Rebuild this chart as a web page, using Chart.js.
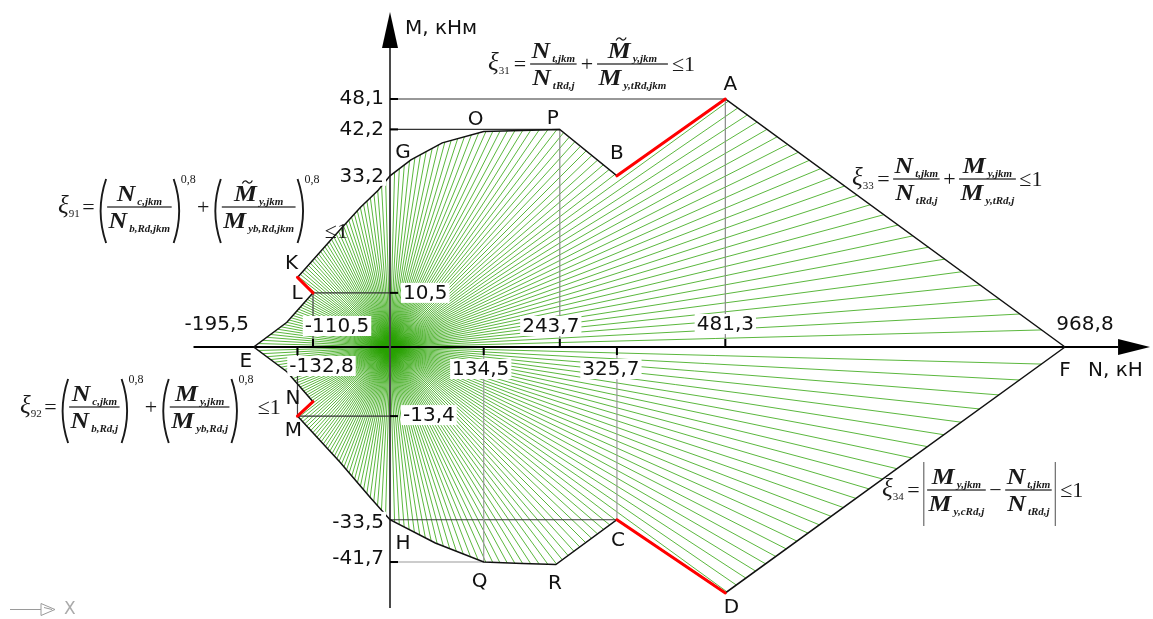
<!DOCTYPE html>
<html>
<head>
<meta charset="utf-8">
<script src="https://cdn.jsdelivr.net/npm/chart.js@4/dist/chart.umd.min.js"></script>
<style>
  html, body { margin: 0; padding: 0; background: #fff; overflow: hidden; }
  canvas { display: block; }
</style>
</head>
<body>
<canvas id="c" width="1153" height="619"></canvas>
<script>
// Interaction diagram N–M: boundary vertices, counter-clockwise from F
const vertexLabels = ['F','A','B','P','O','','','G','','','','K','L','','E','','N','M','','','H','','Q','','R','C','D'];
const boundaryN = [968.8, 481.3, 325.7, 243.7, 134.5, 75, 30, 0, -17, -43, -86, -132.8, -110.5, -148, -195.5, -148, -110.5, -132.8, -72, -29, 0, 65, 134.5, 190, 238, 325.7, 481.3];
const boundaryM = [0, 48.1, 33.2, 42.2, 41.8, 39.6, 36.3, 33.2, 30.4, 27.0, 20.6, 13.5, 10.5, 4.8, 0, -4.8, -10.6, -13.4, -22.3, -29.1, -33.5, -38.0, -41.7, -42.0, -42.2, -33.5, -47.7];

// governing (red) segments
const criticalSegments = [['K','L'], ['B','A'], ['N','M'], ['C','D']];

// dimension values on the axes
const nTicks = [-195.5, -132.8, -110.5, 134.5, 243.7, 325.7, 481.3, 968.8];
const mTicks = [48.1, 42.2, 33.2, 10.5, -13.4, -33.5, -41.7];

// dimension lines: vertex -> N axis (vertical), vertex -> M axis (horizontal)
const dimVertical = ['A', 'P', 'C', 'Q', 'L', 'M'];
const dimHorizontal = ['A', 'P', 'L', 'M', 'C', 'Q'];

const vtx = name => {
  const i = vertexLabels.indexOf(name);
  return { x: boundaryN[i], y: boundaryM[i] };
};
const fmt = v => v.toFixed(1).replace('.', ',');

const boundaryPts = boundaryN.map((n, i) => ({ x: n, y: boundaryM[i] }));
boundaryPts.push({ x: boundaryN[0], y: boundaryM[0] });

const vColors = { A: '#8a8a8a', P: '#8a8a8a', C: '#9a9a9a', Q: '#9a9a9a', L: '#444', M: '#444' };
const hColors = { A: '#333', P: '#333', L: '#333', M: '#333', C: '#333', Q: '#9a9a9a' };

const datasets = [];
criticalSegments.forEach(([a, b]) => datasets.push({
  data: [vtx(a), vtx(b)], showLine: true, borderColor: '#ff0000', borderWidth: 3,
  pointRadius: 0, borderCapStyle: 'round'
}));
datasets.push({
  data: boundaryPts, showLine: true, borderColor: '#111', borderWidth: 1.5, pointRadius: 0
});
dimVertical.forEach(v => {
  const p = vtx(v);
  datasets.push({ data: [p, { x: p.x, y: 0 }], showLine: true, borderColor: vColors[v], borderWidth: 1.2, pointRadius: 0 });
});
dimHorizontal.forEach(v => {
  const p = vtx(v);
  datasets.push({ data: [p, { x: 0, y: p.y }], showLine: true, borderColor: hColors[v], borderWidth: 1.2, pointRadius: 0 });
});

// ray hatching of the admissible region, from the origin to the boundary
const RAYS = 240;
const N_AXIS_FROM = -282, N_AXIS_TO = 1045;
const M_AXIS_FROM = -50.6, M_AXIS_TO = 58;
const hatchPlugin = {
  id: 'hatch',
  beforeDatasetsDraw(chart) {
    const { ctx, scales: { x, y } } = chart;
    const poly = boundaryN.map((n, i) => [x.getPixelForValue(n), y.getPixelForValue(boundaryM[i])]);
    const ox = x.getPixelForValue(0), oy = y.getPixelForValue(0);
    ctx.save();
    ctx.strokeStyle = 'rgba(40,160,0,0.85)';
    ctx.lineWidth = 0.9;
    for (let k = 0; k < RAYS; k++) {
      const a = 2 * Math.PI * k / RAYS;
      const dx = Math.cos(a), dy = Math.sin(a);
      let best = Infinity;
      for (let i = 0; i < poly.length; i++) {
        const p = poly[i], q = poly[(i + 1) % poly.length];
        const ex = q[0] - p[0], ey = q[1] - p[1];
        const den = dx * ey - dy * ex;
        if (Math.abs(den) < 1e-9) continue;
        const wx = p[0] - ox, wy = p[1] - oy;
        const t = (wx * ey - wy * ex) / den;
        const s = (wx * dy - wy * dx) / den;
        if (t > 0 && s >= 0 && s <= 1 && t < best) best = t;
      }
      if (best < Infinity) {
        ctx.beginPath();
        ctx.moveTo(ox, oy);
        ctx.lineTo(ox + dx * best, oy + dy * best);
        ctx.stroke();
      }
    }
    // axes
    ctx.lineWidth = 2;
    ctx.strokeStyle = '#000';
    ctx.beginPath(); ctx.moveTo(x.getPixelForValue(N_AXIS_FROM), oy); ctx.lineTo(x.getPixelForValue(N_AXIS_TO), oy); ctx.stroke();
    ctx.strokeStyle = '#4a4a4a';
    ctx.beginPath(); ctx.moveTo(ox, y.getPixelForValue(M_AXIS_FROM)); ctx.lineTo(ox, y.getPixelForValue(M_AXIS_TO)); ctx.stroke();
    ctx.restore();
  }
};

// labels, ticks, arrows, formulas
const LABEL_FONT = '20px "DejaVu Sans"';
const nLabelPos = { '-195.5': [-37, -23], '-132.8': [24, 19], '-110.5': [24, -21], '134.5': [-3, 22], '243.7': [-9, -21], '325.7': [-6, 22], '481.3': [0, -23], '968.8': [20, -23] };
const mLabelPos = { '48.1': ['r', -1], '42.2': ['r', -1], '33.2': ['r', 0], '10.5': ['l', 0], '-13.4': ['l', -1], '-33.5': ['r', 2], '-41.7': ['r', -4] };
const nTickDir = { '-132.8': 1, '-110.5': -1, '134.5': 1, '243.7': -1, '325.7': 1, '481.3': -1 };
const mTickSet = ['48.1', '42.2', '10.5', '-13.4', '-41.7'];
const letterPos = { A: [5, -15], B: [0, -23], P: [-7, -12], O: [-8, -13], G: [13, -24], K: [-6, -15], L: [-16, 0], E: [-8, 14], N: [-20, -4], M: [-4, 14], H: [13, 23], Q: [-4, 19], R: [-1, 18], C: [1, 20], D: [6, 14], F: [0, 23] };

function maskedText(ctx, text, cx, cy, align) {
  ctx.font = LABEL_FONT;
  const w = ctx.measureText(text).width;
  let left = align === 'r' ? cx - w : align === 'l' ? cx : cx - w / 2;
  ctx.fillStyle = '#fff';
  ctx.fillRect(left - 2, cy - 10, w + 4, 20);
  ctx.fillStyle = '#111';
  ctx.textAlign = 'left';
  ctx.textBaseline = 'middle';
  ctx.fillText(text, left, cy + 1);
}

// math typesetting helpers
const F_MAIN = 'italic bold 23px "Liberation Serif"';
const F_SUB = 'italic bold 11px "Liberation Serif"';
const F_XI = 'italic 25px "Liberation Serif"';
const F_XISUB = '11px "Liberation Serif"';
const F_OP = '22px "Liberation Serif"';
const F_EXP = '12px "Liberation Serif"';

function termW(ctx, t) {
  ctx.font = F_MAIN; let w = ctx.measureText(t.m).width * 1.12;
  ctx.font = F_SUB; w += 2 + ctx.measureText(t.s).width;
  return w;
}
function drawTerm(ctx, t, x, base) {
  ctx.font = F_MAIN;
  const wm = ctx.measureText(t.m).width * 1.12;
  ctx.save(); ctx.translate(x, base); ctx.scale(1.12, 1); ctx.fillText(t.m, 0, 0); ctx.restore();
  if (t.tilde) {
    const tx = x + wm * 0.58, ty = base - 19;
    ctx.save(); ctx.lineWidth = 1.3; ctx.strokeStyle = ctx.fillStyle;
    ctx.beginPath(); ctx.moveTo(tx - 5, ty + 1.5);
    ctx.bezierCurveTo(tx - 3, ty - 2.5, tx - 1, ty - 1, tx, ty);
    ctx.bezierCurveTo(tx + 1, ty + 1, tx + 3, ty + 2.5, tx + 5, ty - 1.5);
    ctx.stroke(); ctx.restore();
  }
  ctx.font = F_SUB; ctx.fillText(t.s, x + wm + 2, base + 4);
}
function itemW(ctx, it, gap) {
  switch (it.k) {
    case 'xi': { ctx.font = F_XI; let w = ctx.measureText('ξ').width; ctx.font = F_XISUB; return w + ctx.measureText(it.s).width + 1; }
    case 'op': { ctx.font = F_OP; return ctx.measureText(it.t).width + gap + (it.pad || 0); }
    case 'frac': return Math.max(termW(ctx, it.num), termW(ctx, it.den)) + 5;
    case 'paren': { ctx.font = F_EXP; return 19 + itemW(ctx, it.inner, gap) + ctx.measureText(it.exp).width; }
    case 'abs': return 9 + it.inner.reduce((s, q) => s + itemW(ctx, q, gap), 0);
  }
  return 0;
}
function drawParen(ctx, x, yb, right) {
  const top = yb - 28, bot = yb + 36, mid = (top + bot) / 2;
  const xo = right ? x + 1 : x + 10, xi = right ? x + 9 : x + 2;
  ctx.save(); ctx.lineWidth = 1.9; ctx.strokeStyle = ctx.fillStyle;
  ctx.beginPath(); ctx.moveTo(xo, top);
  ctx.quadraticCurveTo(xi + (right ? 3 : -3), mid, xo, bot);
  ctx.stroke(); ctx.restore();
}
function drawItem(ctx, it, x, yb, gap) {
  const w = itemW(ctx, it, gap);
  switch (it.k) {
    case 'xi': {
      ctx.font = F_XI; ctx.fillText('ξ', x, yb + 6);
      const wx = ctx.measureText('ξ').width;
      ctx.font = F_XISUB; ctx.fillText(it.s, x + wx, yb + 10);
      break;
    }
    case 'op': ctx.font = F_OP; ctx.fillText(it.t, x + gap / 2 + (it.pad || 0), yb + 7 + (it.dy || 0)); break;
    case 'frac': {
      ctx.fillRect(x + 1, yb - 0.6, w - 2, 1.2);
      const wn = termW(ctx, it.num), wd = termW(ctx, it.den);
      drawTerm(ctx, it.num, x + (w - wn) / 2, yb - 6);
      drawTerm(ctx, it.den, x + (w - wd) / 2, yb + 21);
      break;
    }
    case 'paren': {
      const wi = itemW(ctx, it.inner, gap);
      drawParen(ctx, x, yb, false);
      drawItem(ctx, it.inner, x + 10, yb, gap);
      drawParen(ctx, x + 10 + wi, yb, true);
      ctx.font = F_EXP; ctx.fillText(it.exp, x + 18 + wi, yb - 24);
      break;
    }
    case 'abs': {
      ctx.save(); ctx.fillStyle = '#777';
      ctx.fillRect(x + 1, yb - 28, 1.3, 64);
      ctx.fillRect(x + w - 3, yb - 28, 1.3, 64);
      ctx.restore();
      let cx = x + 4;
      it.inner.forEach(q => { drawItem(ctx, q, cx, yb, gap); cx += itemW(ctx, q, gap); });
      break;
    }
  }
  return w;
}
function drawFormula(ctx, f) {
  let cx = f.x;
  f.items.forEach(it => { cx += drawItem(ctx, it, cx, f.y, f.gap); });
}

const formulas = [
  { x: 488, y: 64, gap: 6, items: [
    { k: 'xi', s: '31' }, { k: 'op', t: '=' },
    { k: 'frac', num: { m: 'N', s: 't,jkm' }, den: { m: 'N', s: 'tRd,j' } },
    { k: 'op', t: '+' },
    { k: 'frac', num: { m: 'M', s: 'y,jkm', tilde: true }, den: { m: 'M', s: 'y,tRd,jkm' } },
    { k: 'op', t: '≤1' }] },
  { x: 58, y: 207, gap: 3, items: [
    { k: 'xi', s: '91' }, { k: 'op', t: '=' },
    { k: 'paren', exp: '0,8', inner: { k: 'frac', num: { m: 'N', s: 'c,jkm' }, den: { m: 'N', s: 'b,Rd,jkm' } } },
    { k: 'op', t: '+' },
    { k: 'paren', exp: '0,8', inner: { k: 'frac', num: { m: 'M', s: 'y,jkm', tilde: true }, den: { m: 'M', s: 'yb,Rd,jkm' } } },
    { k: 'op', t: '≤1', dy: 24, pad: 4 }] },
  { x: 20, y: 407, gap: 3, items: [
    { k: 'xi', s: '92' }, { k: 'op', t: '=' },
    { k: 'paren', exp: '0,8', inner: { k: 'frac', num: { m: 'N', s: 'c,jkm' }, den: { m: 'N', s: 'b,Rd,j' } } },
    { k: 'op', t: '+' },
    { k: 'paren', exp: '0,8', inner: { k: 'frac', num: { m: 'M', s: 'y,jkm' }, den: { m: 'M', s: 'yb,Rd,j' } } },
    { k: 'op', t: '≤1', pad: 3 }] },
  { x: 852, y: 179, gap: 5, items: [
    { k: 'xi', s: '33' }, { k: 'op', t: '=' },
    { k: 'frac', num: { m: 'N', s: 't,jkm' }, den: { m: 'N', s: 'tRd,j' } },
    { k: 'op', t: '+' },
    { k: 'frac', num: { m: 'M', s: 'y,jkm' }, den: { m: 'M', s: 'y,tRd,j' } },
    { k: 'op', t: '≤1' }] },
  { x: 882, y: 490, gap: 5, items: [
    { k: 'xi', s: '34' }, { k: 'op', t: '=' },
    { k: 'abs', inner: [
      { k: 'frac', num: { m: 'M', s: 'y,jkm' }, den: { m: 'M', s: 'y,cRd,j' } },
      { k: 'op', t: '−' },
      { k: 'frac', num: { m: 'N', s: 't,jkm' }, den: { m: 'N', s: 'tRd,j' } }] },
    { k: 'op', t: '≤1' }] }
];

const annotatePlugin = {
  id: 'annotate',
  afterDatasetsDraw(chart) {
    const { ctx, scales: { x, y } } = chart;
    const ox = x.getPixelForValue(0), oy = y.getPixelForValue(0);
    ctx.save();
    // axis ticks
    ctx.fillStyle = '#000';
    nTicks.forEach(v => {
      const d = nTickDir[String(v)];
      if (!d) return;
      const px = x.getPixelForValue(v);
      ctx.fillRect(px - 1, d > 0 ? oy : oy - 8, 2, 8);
    });
    mTicks.forEach(v => {
      if (!mTickSet.includes(String(v))) return;
      const py = y.getPixelForValue(v);
      ctx.fillRect(ox, py - 1, 8, 2);
    });
    // arrows
    const ax = x.getPixelForValue(N_AXIS_TO);
    ctx.beginPath();
    ctx.moveTo(ax + 32, oy); ctx.lineTo(ax, oy - 8); ctx.lineTo(ax, oy + 8); ctx.closePath(); ctx.fill();
    const ay = y.getPixelForValue(M_AXIS_TO);
    ctx.beginPath();
    ctx.moveTo(ox, ay - 36); ctx.lineTo(ox - 8, ay); ctx.lineTo(ox + 8, ay); ctx.closePath(); ctx.fill();

    // dimension values
    nTicks.forEach(v => {
      const [dx, dy] = nLabelPos[String(v)];
      maskedText(ctx, fmt(v), x.getPixelForValue(v) + dx, oy + dy, 'c');
    });
    mTicks.forEach(v => {
      const [side, dy] = mLabelPos[String(v)];
      const py = y.getPixelForValue(v) + dy;
      if (side === 'r') maskedText(ctx, fmt(v), ox - 6, py, 'r');
      else maskedText(ctx, fmt(v), ox + 13, py, 'l');
    });

    // vertex letters
    ctx.font = LABEL_FONT; ctx.fillStyle = '#111'; ctx.textAlign = 'center'; ctx.textBaseline = 'middle';
    vertexLabels.forEach((name, i) => {
      if (!name) return;
      const [dx, dy] = letterPos[name];
      ctx.fillText(name, x.getPixelForValue(boundaryN[i]) + dx, y.getPixelForValue(boundaryM[i]) + dy + 1);
    });

    // axis titles
    ctx.textAlign = 'left';
    ctx.fillText('M, кНм', ox + 15, 29);
    ctx.fillText('N, кН', 1088, 371);

    // coordinate system glyph
    ctx.strokeStyle = '#9a9a9a'; ctx.fillStyle = '#9a9a9a'; ctx.lineWidth = 1;
    ctx.beginPath(); ctx.moveTo(10, 609.5); ctx.lineTo(41, 609.5); ctx.stroke();
    ctx.beginPath(); ctx.moveTo(41, 603.5); ctx.lineTo(55, 609.5); ctx.lineTo(41, 615.5); ctx.closePath(); ctx.stroke();
    ctx.beginPath(); ctx.moveTo(44, 607.5); ctx.lineTo(52, 609.5); ctx.stroke();
    ctx.font = '17px "DejaVu Sans"'; ctx.fillStyle = '#aaa';
    ctx.fillText('X', 64, 610);

    // limit-state expressions
    ctx.textAlign = 'left'; ctx.textBaseline = 'alphabetic'; ctx.fillStyle = '#1a1a1a';
    formulas.forEach(f => drawFormula(ctx, f));
    ctx.restore();
  }
};

new Chart(document.getElementById('c'), {
  type: 'scatter',
  data: { datasets },
  options: {
    responsive: false,
    animation: false,
    events: [],
    layout: { padding: 0 },
    plugins: { legend: { display: false }, tooltip: { enabled: false }, title: { display: false } },
    elements: { line: { tension: 0 } },
    scales: {
      x: { type: 'linear', display: false, min: -559.75, max: 1095.1 },
      y: { type: 'linear', display: false, min: -52.75, max: 67.3 }
    }
  },
  plugins: [hatchPlugin, annotatePlugin]
});
</script>
</body>
</html>
